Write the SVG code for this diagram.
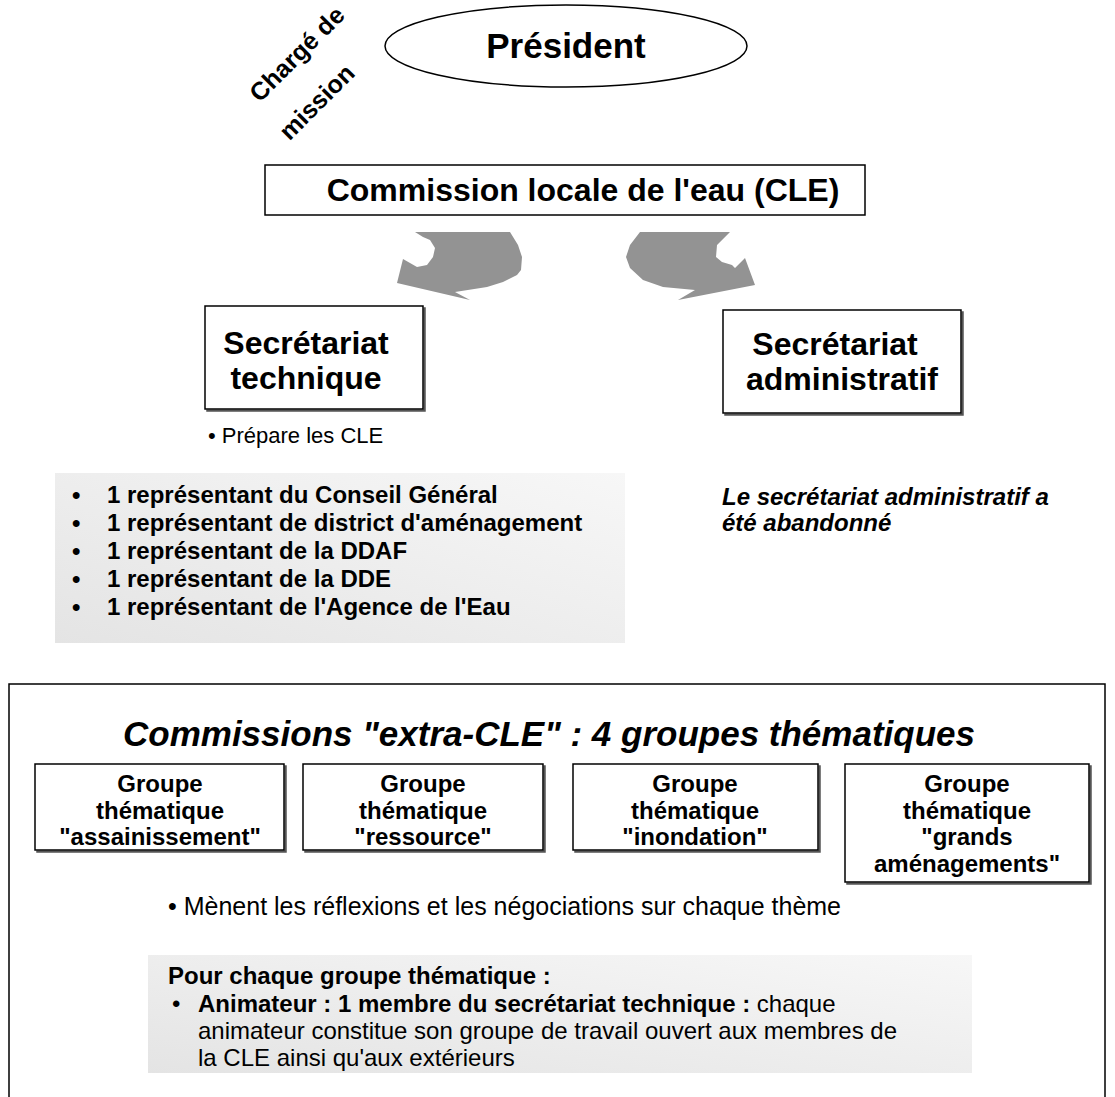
<svg xmlns="http://www.w3.org/2000/svg" width="1115" height="1097" viewBox="0 0 1115 1097">
  <defs>
    <linearGradient id="panelFill" x1="0" y1="1" x2="1" y2="0">
      <stop offset="0" stop-color="#e4e4e4"/>
      <stop offset="1" stop-color="#f7f7f7"/>
    </linearGradient>
    <filter id="drop" x="-5%" y="-5%" width="115%" height="115%">
      <feOffset dx="2" dy="2" in="SourceAlpha" result="o"/>
      <feFlood flood-color="#555"/>
      <feComposite in2="o" operator="in" result="s"/>
      <feMerge><feMergeNode in="s"/><feMergeNode in="SourceGraphic"/></feMerge>
    </filter>
    <style>
      .box { fill: #fff; stroke: #000; stroke-width: 1.5; }
      .t { font-family: "Liberation Sans", Arial, sans-serif; fill: #000; }
      .b { font-weight: bold; }
      .bi { font-weight: bold; font-style: italic; }
      .mid { text-anchor: middle; }
      .arrow { fill: #939393; }
      .panel { fill: url(#panelFill); }
    </style>
  </defs>

  <rect width="1115" height="1097" fill="#fff"/>

  <!-- President -->
  <g id="president">
    <ellipse class="box" cx="566" cy="46" rx="181" ry="41"/>
    <text class="t b mid" x="566" y="58" font-size="35">Président</text>
  </g>

  <!-- Chargé de mission, slanted label -->
  <g id="charge-de-mission" transform="translate(303,60) rotate(-45)">
    <text class="t b mid" x="0" y="0" font-size="25">Chargé de</text>
    <text class="t b mid" x="-20" y="48" font-size="25">mission</text>
  </g>

  <!-- Commission locale de l'eau -->
  <g id="cle">
    <rect class="box" x="265" y="165" width="600" height="50"/>
    <text class="t b mid" x="583" y="201" font-size="32">Commission locale de l'eau (CLE)</text>
  </g>

  <!-- Curved arrows from the CLE to both secretariats -->
  <g id="connectors">
    <polygon class="arrow" points="415,232 510,232 518,245 522,257 521,270 517,275 503,282 487,287 455,292 470,300 397,283 403,259 417,267 427,265 433,257 435,248 430,240 423,237"/>
    <polygon class="arrow" points="640,232 730,232 717,245 716,257 722,262 732,265 735,268 745,258 755,285 678,300 695,290 663,287 643,280 630,268 626,257 630,245"/>
  </g>

  <!-- Secrétariat technique -->
  <g id="secretariat-technique">
    <rect class="box" x="205" y="306" width="218" height="103" filter="url(#drop)"/>
    <text class="t b mid" x="306" y="354" font-size="32">Secrétariat</text>
    <text class="t b mid" x="306" y="389" font-size="32">technique</text>
    <text class="t" x="208" y="443" font-size="22">• Prépare les CLE</text>
  </g>

  <!-- Secrétariat administratif -->
  <g id="secretariat-administratif">
    <rect class="box" x="723" y="310" width="238" height="103" filter="url(#drop)"/>
    <text class="t b mid" x="835" y="355" font-size="32">Secrétariat</text>
    <text class="t b mid" x="842" y="390" font-size="32">administratif</text>
    <text class="t bi" x="722" y="505" font-size="24">Le secrétariat administratif a</text>
    <text class="t bi" x="722" y="531" font-size="24">été abandonné</text>
  </g>

  <!-- Members of the technical secretariat -->
  <g id="membres-secretariat">
    <rect class="panel" x="55" y="473" width="570" height="170"/>
    <g class="t b" font-size="24">
      <text x="72" y="503">•</text><text x="107" y="503">1 représentant du Conseil Général</text>
      <text x="72" y="531">•</text><text x="107" y="531">1 représentant de district d'aménagement</text>
      <text x="72" y="559">•</text><text x="107" y="559">1 représentant de la DDAF</text>
      <text x="72" y="587">•</text><text x="107" y="587">1 représentant de la DDE</text>
      <text x="72" y="615">•</text><text x="107" y="615">1 représentant de l'Agence de l'Eau</text>
    </g>
  </g>

  <!-- Commissions extra-CLE frame (open at the bottom) -->
  <g id="extra-cle">
    <path d="M9,1097 V684 H1105 V1097" fill="none" stroke="#000" stroke-width="1.5"/>
    <text class="t bi mid" x="549" y="746" font-size="35">Commissions "extra-CLE" : 4 groupes thématiques</text>
  </g>

  <g id="groupe-assainissement">
    <rect class="box" x="35" y="764" width="249" height="86" filter="url(#drop)"/>
    <text class="t b mid" x="160" y="792" font-size="24">Groupe</text>
    <text class="t b mid" x="160" y="819" font-size="24">thématique</text>
    <text class="t b mid" x="160" y="845" font-size="24">"assainissement"</text>
  </g>

  <g id="groupe-ressource">
    <rect class="box" x="303" y="764" width="240" height="86" filter="url(#drop)"/>
    <text class="t b mid" x="423" y="792" font-size="24">Groupe</text>
    <text class="t b mid" x="423" y="819" font-size="24">thématique</text>
    <text class="t b mid" x="423" y="845" font-size="24">"ressource"</text>
  </g>

  <g id="groupe-inondation">
    <rect class="box" x="573" y="764" width="245" height="86" filter="url(#drop)"/>
    <text class="t b mid" x="695" y="792" font-size="24">Groupe</text>
    <text class="t b mid" x="695" y="819" font-size="24">thématique</text>
    <text class="t b mid" x="695" y="845" font-size="24">"inondation"</text>
  </g>

  <g id="groupe-grands-amenagements">
    <rect class="box" x="845" y="764" width="244" height="118" filter="url(#drop)"/>
    <text class="t b mid" x="967" y="792" font-size="24">Groupe</text>
    <text class="t b mid" x="967" y="819" font-size="24">thématique</text>
    <text class="t b mid" x="967" y="845" font-size="24">"grands</text>
    <text class="t b mid" x="967" y="872" font-size="24">aménagements"</text>
  </g>

  <text class="t" x="168" y="915" font-size="25">• Mènent les réflexions et les négociations sur chaque thème</text>

  <!-- Facilitator for each theme group -->
  <g id="animateur">
    <rect class="panel" x="148" y="955" width="824" height="118"/>
    <g class="t" font-size="24">
      <text class="b" x="168" y="984">Pour chaque groupe thématique :</text>
      <text x="172" y="1012">•</text>
      <text x="198" y="1012"><tspan font-weight="bold">Animateur : 1 membre du secrétariat technique : </tspan>chaque</text>
      <text x="198" y="1039">animateur constitue son groupe de travail ouvert aux membres de</text>
      <text x="198" y="1066">la CLE ainsi qu'aux extérieurs</text>
    </g>
  </g>
</svg>
